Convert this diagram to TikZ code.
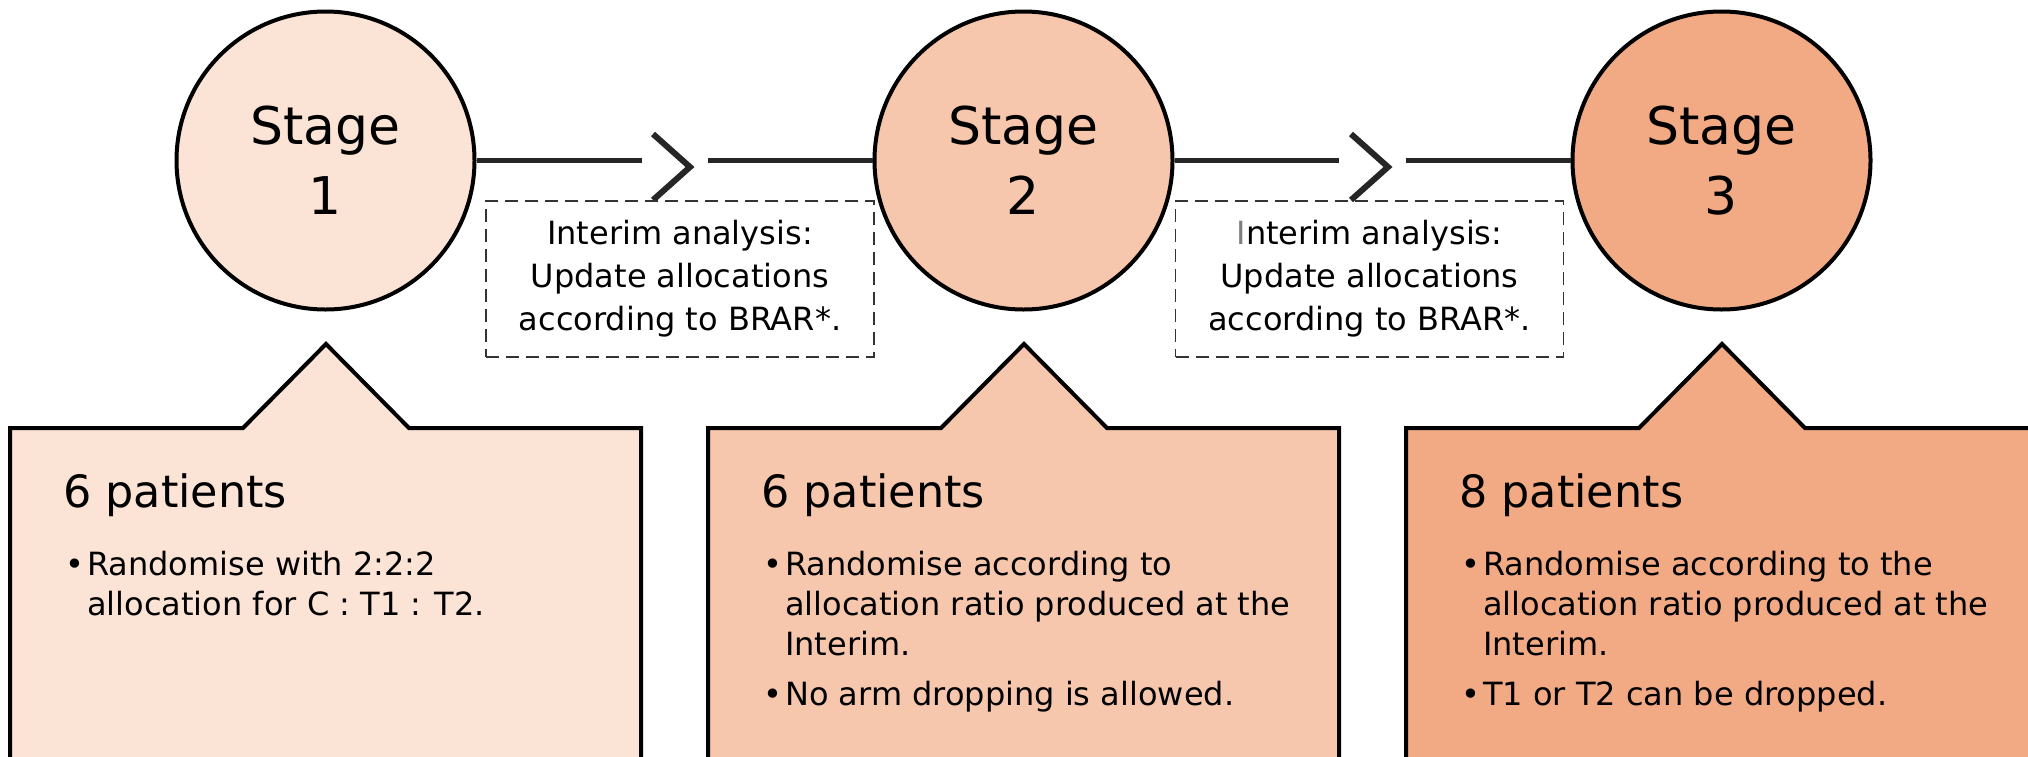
\documentclass[tikz,border=0pt]{standalone}
\usepackage{fontspec}
\setmainfont{DejaVu Sans}
\usepackage{array}
\usetikzlibrary{calc}
\definecolor{cA}{HTML}{FBE3D6}
\definecolor{cB}{HTML}{F6C6AD}
\definecolor{cC}{HTML}{F2AA84}
\definecolor{linec}{HTML}{262626}
\definecolor{grayI}{HTML}{7F7F7F}
\tikzset{
  stagecirc/.style={circle, draw=black, line width=4pt, minimum size=298pt, inner sep=0pt,
    align=center, font=\fontsize{52}{70}\selectfont},
  conn/.style={draw=linec, line width=5pt},
  chevr/.style={draw=linec, line width=6pt, miter limit=10},
  dbox/.style={draw=black!80, dashed, dash pattern=on 13pt off 7pt, line width=1.8pt,
    minimum width=388pt, minimum height=156pt, inner sep=0pt, align=center,
    font=\fontsize{32}{43}\selectfont},
  callout/.style={draw=black, line width=4pt, line join=miter},
  head/.style={anchor=base west, inner sep=0pt, font=\fontsize{44.5}{50}\selectfont},
  blist/.style={anchor=base west, inner sep=0pt, font=\fontsize{32}{40}\selectfont},
}
\begin{document}
\begin{tikzpicture}[x=1pt,y=-1pt]
\useasboundingbox (0,0) rectangle (2028,756);
\clip (0,0) rectangle (2028,756);

% callout boxes
\draw[callout, fill=cA] (10,428) -- (243,428) -- (326,344) -- (409,428) -- (641,428) -- (641,800) -- (10,800) -- cycle;
\draw[callout, fill=cB] (708,428) -- (941,428) -- (1024,344) -- (1107,428) -- (1339,428) -- (1339,800) -- (708,800) -- cycle;
\draw[callout, fill=cC] (1406,428) -- (1639,428) -- (1722,344) -- (1805,428) -- (2037,428) -- (2037,800) -- (1406,800) -- cycle;

% stage circles
\node[stagecirc, fill=cA] (s1) at (325.5,160.5) {Stage\\1};
\node[stagecirc, fill=cB] (s2) at (1023.5,160.5) {Stage\\2};
\node[stagecirc, fill=cC] (s3) at (1721.5,160.5) {Stage\\3};

% connectors
\coordinate (a1) at (642,160.5);
\coordinate (b1) at (708,160.5);
\coordinate (a2) at (1339,160.5);
\coordinate (b2) at (1406,160.5);
\draw[conn] (s1.east) -- (a1);
\draw[conn] (b1) -- (s2.west);
\draw[conn] (s2.east) -- (a2);
\draw[conn] (b2) -- (s3.west);
\coordinate (t1) at (690,167);
\coordinate (t2) at (1388,167);
\draw[chevr] ($(t1)+(-37,-33)$) -- (t1) -- ($(t1)+(-37,33)$);
\draw[chevr] ($(t2)+(-37,-33)$) -- (t2) -- ($(t2)+(-37,33)$);

% dashed boxes
\node[dbox] (d1) at (680,279) {Interim analysis:\\Update allocations\\according to BRAR*.};
\node[dbox] (d2) at (1369.5,279) {{\color{grayI}I}nterim analysis:\\Update allocations\\according to BRAR*.};

% callout texts
\node[head] (h1) at (63,507) {6 patients};
\node[head] (h2) at (761,507) {6 patients};
\node[head] (h3) at (1459,507) {8 patients};

\node[blist] (l1) at (65,575) {\begin{tabular}[t]{@{}p{22pt}@{}l@{}}
•& Randomise with 2:2:2\\
 & allocation for C : T1 : T2.
\end{tabular}};
\node[blist] (l2) at (763,575) {\begin{tabular}[t]{@{}p{22pt}@{}l@{}}
•& Randomise according to\\
 & allocation ratio produced at the\\
 & Interim.\\[10pt]
•& No arm dropping is allowed.
\end{tabular}};
\node[blist] (l3) at (1461,575) {\begin{tabular}[t]{@{}p{22pt}@{}l@{}}
•& Randomise according to the\\
 & allocation ratio produced at the\\
 & Interim.\\[10pt]
•& T1 or T2 can be dropped.
\end{tabular}};
\end{tikzpicture}
\end{document}
